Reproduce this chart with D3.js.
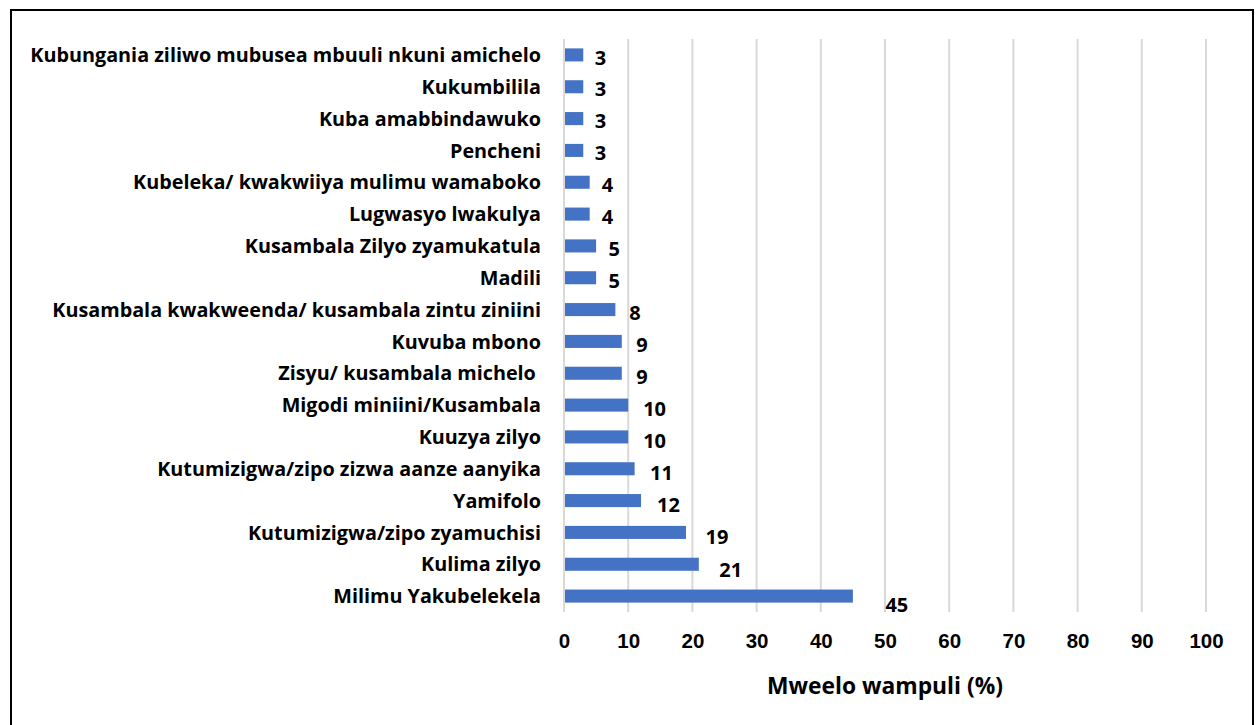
<!DOCTYPE html>
<html lang="en">
<head>
    <meta charset="UTF-8">
    <title>Mweelo wampuli</title>
    <style>
        body{
            margin: 0;
            background: #fff;
        }
        svg{
            display: block;
            font-family: "Open Sans", Lato, sans-serif;
            font-weight: bold;
        }
        .grid line{
            stroke: #d9d9d9;
            stroke-width: 2;
        }
        .bar{
            fill: #4472c4;
        }
    </style>
    <script src="https://cdn.jsdelivr.net/npm/d3@7"></script>
</head>
<body>
<script>
    const width = 1259
    const height = 725

    // categories top to bottom
    const categories = [
        "Kubungania ziliwo mubusea mbuuli nkuni amichelo",
        "Kukumbilila",
        "Kuba amabbindawuko",
        "Pencheni",
        "Kubeleka/ kwakwiiya mulimu wamaboko",
        "Lugwasyo lwakulya",
        "Kusambala Zilyo zyamukatula",
        "Madili",
        "Kusambala kwakweenda/ kusambala zintu ziniini",
        "Kuvuba mbono",
        "Zisyu/ kusambala michelo ",
        "Migodi miniini/Kusambala",
        "Kuuzya zilyo",
        "Kutumizigwa/zipo zizwa aanze aanyika",
        "Yamifolo",
        "Kutumizigwa/zipo zyamuchisi",
        "Kulima zilyo",
        "Milimu Yakubelekela"
    ]
    const values = [3, 3, 3, 3, 4, 4, 5, 5, 8, 9, 9, 10, 10, 11, 12, 19, 21, 45]
    const xTicks = [0, 10, 20, 30, 40, 50, 60, 70, 80, 90, 100]
    const xTitle = "Mweelo wampuli (%)"

    const data = categories.map((c, i) => ({name: c, value: values[i]}))

    let svg = d3.select("body").append("svg")
        .attr("width", width)
        .attr("height", height)

    // outer frame
    svg.append("rect")
        .attr("x", 11).attr("y", 10)
        .attr("width", 1242).attr("height", 730)
        .attr("fill", "none")
        .attr("stroke", "#000")
        .attr("stroke-width", 2)

    const x = d3.scaleLinear().domain([0, 100]).range([564, 1206])
    const y = d3.scaleBand()
        .domain(categories)
        .range([39, 612])
        .paddingInner(0.59)
        .paddingOuter(0.295)

    // gridlines
    svg.append("g").attr("class", "grid")
        .selectAll("line")
        .data(xTicks)
        .enter()
        .append("line")
        .attr("x1", d => x(d)).attr("x2", d => x(d))
        .attr("y1", 39).attr("y2", 612)

    // bars
    svg.selectAll(".bar")
        .data(data)
        .enter()
        .append("rect")
        .attr("class", "bar")
        .attr("x", x(0) + 1)
        .attr("y", d => y(d.name))
        .attr("width", d => x(d.value) - x(0) - 1)
        .attr("height", y.bandwidth())

    // value labels
    svg.selectAll(".val")
        .data(data)
        .enter()
        .append("text")
        .attr("class", "val")
        .attr("x", d => x(d.value) + 10 + d.value * 0.5)
        .attr("y", d => y(d.name) + y.bandwidth() / 2 + 2 + d.value * 0.15)
        .attr("dy", "0.36em")
        .attr("font-size", 20)
        .attr("fill", "#000")
        .text(d => d.value)

    // category labels
    svg.selectAll(".cat")
        .data(data)
        .enter()
        .append("text")
        .attr("class", "cat")
        .attr("x", 541)
        .attr("y", d => y(d.name) + y.bandwidth() / 2)
        .attr("dy", "0.36em")
        .attr("text-anchor", "end")
        .attr("font-size", 19.8)
        .attr("fill", "#000")
        .attr("xml:space", "preserve")
        .text(d => d.name)

    // x axis tick labels
    const xAxis = d3.axisBottom(x).tickValues(xTicks).tickSize(0).tickPadding(0)
    const gx = svg.append("g")
        .attr("transform", "translate(0,633)")
        .call(xAxis)
    gx.select(".domain").remove()
    gx.selectAll("text")
        .attr("font-size", 20.5)
        .attr("font-family", null)
        .attr("fill", "#000")

    svg.append("text")
        .attr("x", x(50))
        .attr("y", 686)
        .attr("dy", "0.36em")
        .attr("text-anchor", "middle")
        .attr("font-size", 22.8)
        .attr("fill", "#000")
        .text(xTitle)
</script>
</body>
</html>
